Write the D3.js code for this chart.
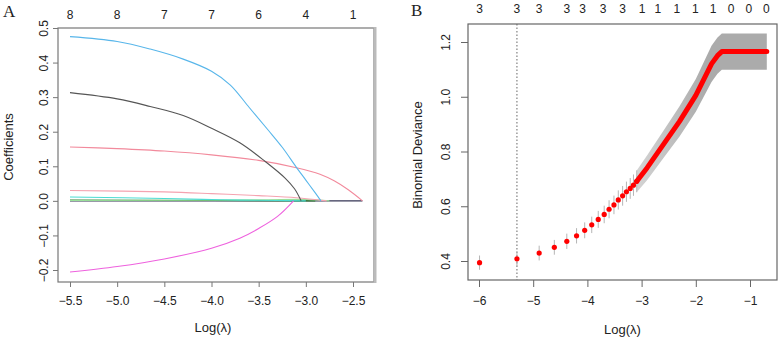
<!DOCTYPE html>
<html lang="en">
<head>
<meta charset="UTF-8">
<title>LASSO coefficient paths and CV deviance</title>
<script src="https://d3js.org/d3.v7.min.js"></script>
<style>
    body { margin: 0; background: #fff; }
    text { font-family: "Liberation Sans", Arial, sans-serif; fill: #222; }
    .panel-tag { font-family: "Liberation Serif", "Times New Roman", serif; font-size: 17px; }
    .tick-lab { font-size: 12px; }
    .ax-title { font-size: 13px; }
</style>
</head>
<body>
<script>
// ---- panel A: coefficient paths, [log(lambda), coefficient] ----
var coefBlue = [[-5.5,0.475],[-5.0,0.461],[-4.65,0.439],[-4.3,0.41],[-4.0,0.375],[-3.8,0.335],[-3.6,0.27],[-3.4,0.205],[-3.25,0.155],[-3.10,0.097],[-3.0,0.06],[-2.9,0.023],[-2.84,0]];
var coefBlack = [[-5.5,0.313],[-5.0,0.295],[-4.65,0.273],[-4.3,0.247],[-4.0,0.21],[-3.7,0.168],[-3.43,0.114],[-3.22,0.066],[-3.12,0.035],[-3.05,0]];
var coefPink = [[-5.5,0.156],[-5.0,0.151],[-4.5,0.144],[-4.0,0.133],[-3.5,0.117],[-3.1,0.096],[-2.85,0.077],[-2.7,0.058],[-2.55,0.032],[-2.4,0]];
var coefRose = [[-5.5,0.030],[-4.5,0.026],[-4.0,0.021],[-3.5,0.015],[-3.1,0.009],[-2.85,0.002],[-2.78,0]];
var coefCyan = [[-5.5,0.011],[-4.5,0.007],[-3.9,0.003],[-3.3,0.001],[-3.0,0]];
var coefGreen = [[-5.5,0.002],[-4.0,0.001],[-2.9,0]];
var coefLime = [[-5.5,0.001],[-3.5,0.003],[-3.0,0.004],[-2.75,0]];
var coefMagenta = [[-5.5,-0.206],[-5.0,-0.19],[-4.5,-0.168],[-4.0,-0.137],[-3.7,-0.108],[-3.5,-0.080],[-3.3,-0.045],[-3.13,0]];
var coefZero = [[-5.5,0],[-2.4,0]];

var aXTicks = [-5.5, -5.0, -4.5, -4.0, -3.5, -3.0, -2.5];
var aYTicks = [-0.2, -0.1, 0.0, 0.1, 0.2, 0.3, 0.4, 0.5];
var aTopLabels = ["8", "8", "7", "7", "6", "4", "1"];

// ---- panel B: cross-validated binomial deviance ----
var cvLogLambda = [-5.99,-5.30,-4.89,-4.61,-4.38,-4.20,-4.05,-3.92,-3.80,-3.69,-3.60,-3.51,-3.43,-3.35,-3.28,-3.21,-3.15,-3.09];
var cvDeviance  = [0.394,0.408,0.429,0.450,0.472,0.492,0.512,0.532,0.552,0.570,0.589,0.605,0.623,0.638,0.653,0.665,0.677,0.691];
var cvSE        = [0.026,0.027,0.027,0.027,0.028,0.028,0.029,0.030,0.031,0.032,0.033,0.034,0.035,0.036,0.037,0.038,0.039,0.040];
// dense part of the curve where the points merge into a thick band
var denseLogLambda = [-3.09,-2.9,-2.6,-2.3,-2.0,-1.71,-1.6,-1.52,-0.69];
var denseDeviance  = [0.691,0.740,0.825,0.910,1.005,1.120,1.150,1.165,1.165];
var denseSE        = [0.040,0.045,0.050,0.055,0.060,0.066,0.066,0.066,0.066];
var lambdaMinLog = -5.30;

var bXTicks = [-6, -5, -4, -3, -2, -1];
var bYTicks = [0.4, 0.6, 0.8, 1.0, 1.2];
var bTopPos = [-5.99,-5.30,-4.89,-4.38,-4.09,-3.71,-3.35,-2.99,-2.70,-2.35,-2.01,-1.68,-1.35,-1.02,-0.70];
var bTopLabels = ["3","3","3","3","3","3","3","1","1","1","1","1","0","0","0"];

var svg = d3.select("body").append("svg")
    .attr("width", 779)
    .attr("height", 340);

// ================= panel A =================
var ax = d3.scaleLinear().domain([-5.5, -2.5]).range([70, 353]);
var ay = d3.scaleLinear().domain([-0.2, 0.5]).range([270, 28]);
var aBox = {l: 58, r: 374, t: 28, b: 282};

var gA = svg.append("g");

gA.append("rect")
    .attr("x", aBox.l).attr("y", aBox.t)
    .attr("width", aBox.r - aBox.l).attr("height", aBox.b - aBox.t)
    .attr("fill", "none").attr("stroke", "#777").attr("stroke-width", 1.2);
// right border looks heavier in the original
gA.append("line")
    .attr("x1", aBox.r + 1).attr("x2", aBox.r + 1)
    .attr("y1", aBox.t - 1).attr("y2", aBox.b + 1)
    .attr("stroke", "#bbb").attr("stroke-width", 3);

var aBottom = gA.append("g")
    .attr("transform", "translate(0," + aBox.b + ")")
    .call(d3.axisBottom(ax).tickValues(aXTicks).tickFormat(d3.format(".1f")).tickSizeOuter(0).tickSize(5).tickPadding(9));
var aLeft = gA.append("g")
    .attr("transform", "translate(" + aBox.l + ",0)")
    .call(d3.axisLeft(ay).tickValues(aYTicks).tickFormat(d3.format(".1f")).tickSizeOuter(0).tickSize(5));

[aBottom, aLeft].forEach(function(g) {
    g.select(".domain").remove();
    g.selectAll("line").attr("stroke", "#777");
    g.selectAll("text").attr("class", "tick-lab").style("font-family", null).attr("font-size", null).attr("fill", "#222");
});
aLeft.selectAll(".tick text")
    .attr("x", null).attr("dy", null)
    .attr("text-anchor", "middle")
    .attr("transform", "translate(-10,0) rotate(-90)");

gA.selectAll(".toplab")
    .data(aXTicks)
    .enter().append("text")
    .attr("class", "tick-lab")
    .attr("x", function(d) { return ax(d); })
    .attr("y", 19)
    .attr("text-anchor", "middle")
    .text(function(d, i) { return aTopLabels[i]; });

var coefLine = d3.line()
    .x(function(d) { return ax(d[0]); })
    .y(function(d) { return ay(d[1]); })
    .curve(d3.curveCatmullRom.alpha(0.5));

var series = [
    {v: coefZero, c: "#353555"},
    {v: coefGreen, c: "#2d7d2d"},
    {v: coefLime, c: "#9be09b"},
    {v: coefCyan, c: "#4cdcd2"},
    {v: coefRose, c: "#f5a3b0"},
    {v: coefMagenta, c: "#ee62de"},
    {v: coefPink, c: "#f28a9c"},
    {v: coefBlack, c: "#555555"},
    {v: coefBlue, c: "#58b6ea"}
];
gA.selectAll(".coef")
    .data(series)
    .enter().append("path")
    .attr("class", "coef")
    .attr("d", function(d) { return coefLine(d.v); })
    .attr("fill", "none")
    .attr("stroke", function(d) { return d.c; })
    .attr("stroke-width", 1.1);

gA.append("text").attr("class", "ax-title")
    .attr("x", (aBox.l + aBox.r) / 2 - 3).attr("y", 332)
    .attr("text-anchor", "middle").text("Log(λ)");
gA.append("text").attr("class", "ax-title")
    .attr("transform", "translate(13," + ((aBox.t + aBox.b) / 2 - 8) + ") rotate(-90)")
    .attr("text-anchor", "middle").text("Coefficients");
gA.append("text").attr("class", "panel-tag")
    .attr("x", 3).attr("y", 17).text("A");

// ================= panel B =================
var bx = d3.scaleLinear().domain([-6, -1]).range([479, 750]);
var by = d3.scaleLinear().domain([0.4, 1.2]).range([261, 42]);
var bBox = {l: 468, r: 777, t: 24, b: 280};

var gB = svg.append("g");

gB.append("rect")
    .attr("x", bBox.l).attr("y", bBox.t)
    .attr("width", bBox.r - bBox.l).attr("height", bBox.b - bBox.t)
    .attr("fill", "none").attr("stroke", "#666").attr("stroke-width", 1.2);

var bBottom = gB.append("g")
    .attr("transform", "translate(0," + bBox.b + ")")
    .call(d3.axisBottom(bx).tickValues(bXTicks).tickFormat(d3.format("d")).tickSizeOuter(0).tickSize(7).tickPadding(9));
var bLeft = gB.append("g")
    .attr("transform", "translate(" + bBox.l + ",0)")
    .call(d3.axisLeft(by).tickValues(bYTicks).tickFormat(d3.format(".1f")).tickSizeOuter(0).tickSize(7));

[bBottom, bLeft].forEach(function(g) {
    g.select(".domain").remove();
    g.selectAll("line").attr("stroke", "#666");
    g.selectAll("text").attr("class", "tick-lab").style("font-family", null).attr("font-size", null).attr("fill", "#222");
});
bLeft.selectAll(".tick text")
    .attr("x", null).attr("dy", null)
    .attr("text-anchor", "middle")
    .attr("transform", "translate(-18,0) rotate(-90)");

gB.selectAll(".toplab")
    .data(bTopPos)
    .enter().append("text")
    .attr("class", "tick-lab")
    .attr("x", function(d) { return bx(d); })
    .attr("y", 13)
    .attr("text-anchor", "middle")
    .text(function(d, i) { return bTopLabels[i]; });

// gradient: hatched error bars become a solid band to the right
var grad = svg.append("defs").append("linearGradient")
    .attr("id", "bandFill")
    .attr("gradientUnits", "userSpaceOnUse")
    .attr("x1", bx(-3.1)).attr("x2", bx(-1.8)).attr("y1", 0).attr("y2", 0);
grad.append("stop").attr("offset", "0%").attr("stop-color", "#d4d4d4");
grad.append("stop").attr("offset", "100%").attr("stop-color", "#ababab");

var denseRows = denseLogLambda.map(function(l, i) {
    return {l: l, m: denseDeviance[i], s: denseSE[i]};
});
gB.append("path")
    .datum(denseRows)
    .attr("d", d3.area()
        .x(function(d) { return bx(d.l); })
        .y0(function(d) { return by(d.m - d.s); })
        .y1(function(d) { return by(d.m + d.s); }))
    .attr("fill", "url(#bandFill)");

// dotted line at lambda.min
gB.append("line")
    .attr("x1", bx(lambdaMinLog)).attr("x2", bx(lambdaMinLog))
    .attr("y1", bBox.t).attr("y2", bBox.b)
    .attr("stroke", "#666").attr("stroke-width", 1)
    .attr("stroke-dasharray", "1.5,2");

var cvRows = cvLogLambda.map(function(l, i) {
    return {l: l, m: cvDeviance[i], s: cvSE[i]};
});
gB.selectAll(".ebar")
    .data(cvRows)
    .enter().append("line")
    .attr("class", "ebar")
    .attr("x1", function(d) { return bx(d.l); })
    .attr("x2", function(d) { return bx(d.l); })
    .attr("y1", function(d) { return by(d.m - d.s); })
    .attr("y2", function(d) { return by(d.m + d.s); })
    .attr("stroke", "#b5b5b5").attr("stroke-width", 1);

gB.append("path")
    .datum(denseRows)
    .attr("d", d3.line()
        .x(function(d) { return bx(d.l); })
        .y(function(d) { return by(d.m); }))
    .attr("fill", "none")
    .attr("stroke", "#ff0000")
    .attr("stroke-width", 5)
    .attr("stroke-linecap", "round")
    .attr("stroke-linejoin", "round");

gB.selectAll(".pt")
    .data(cvRows)
    .enter().append("circle")
    .attr("class", "pt")
    .attr("cx", function(d) { return bx(d.l); })
    .attr("cy", function(d) { return by(d.m); })
    .attr("r", 2.6)
    .attr("fill", "#ff0000");

gB.append("text").attr("class", "ax-title")
    .attr("x", (bBox.l + bBox.r) / 2).attr("y", 334)
    .attr("text-anchor", "middle").text("Log(λ)");
gB.append("text").attr("class", "ax-title")
    .attr("transform", "translate(422," + ((bBox.t + bBox.b) / 2 + 3) + ") rotate(-90)")
    .attr("text-anchor", "middle").text("Binomial Deviance");
gB.append("text").attr("class", "panel-tag")
    .attr("x", 411).attr("y", 16).text("B");
</script>
</body>
</html>
